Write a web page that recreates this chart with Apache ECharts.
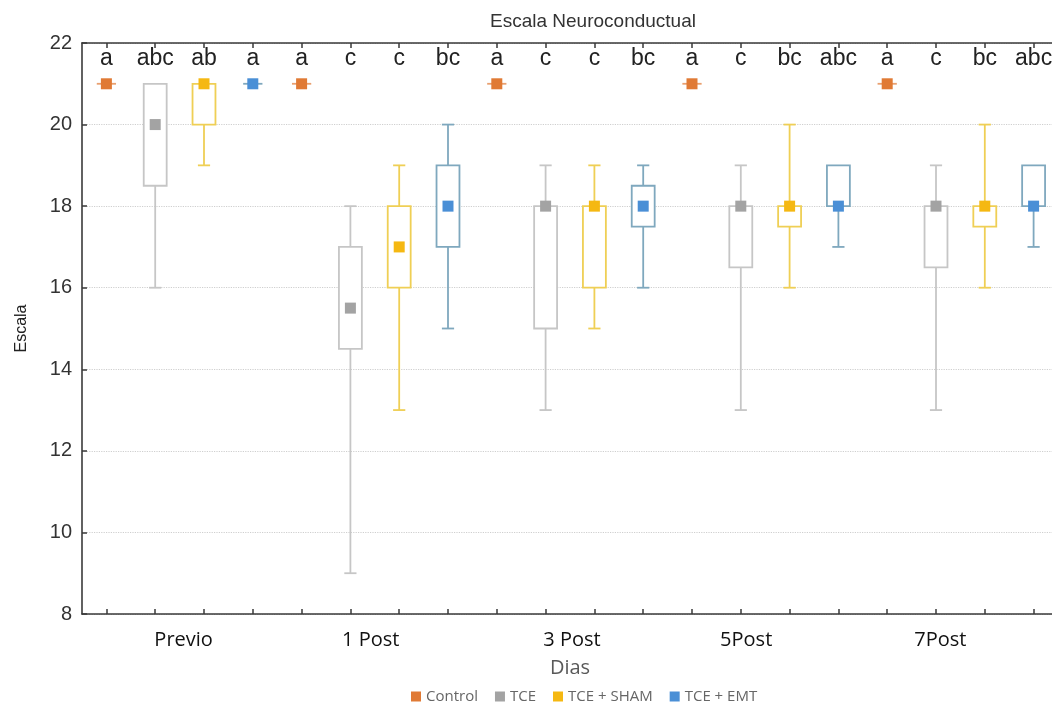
<!DOCTYPE html>
<html><head><meta charset="utf-8">
<script src="https://cdn.jsdelivr.net/npm/echarts@6/dist/echarts.min.js"></script>
<style>html,body{margin:0;padding:0;background:#fff}#c{width:1052px;height:704px}</style>
</head><body><div id="c"></div>
<script>
const days = ['Previo', '1 Post', '3 Post', '5Post', '7Post'];
const groups = ['Control', 'TCE', 'TCE + SHAM', 'TCE + EMT'];
const letters = ['a', 'abc', 'ab', 'a', 'a', 'c', 'c', 'bc', 'a', 'c', 'c', 'bc', 'a', 'c', 'bc', 'abc', 'a', 'c', 'bc', 'abc'];
const yMin = 8, yMax = 22, yStep = 2;
// per day: [min, Q1, marker, Q3, max]
const control = [[21, 21, 21, 21, 21], [21, 21, 21, 21, 21], [21, 21, 21, 21, 21], [21, 21, 21, 21, 21], [21, 21, 21, 21, 21]];
const tce = [[16, 18.5, 20, 21, 21], [9, 14.5, 15.5, 17, 18], [13, 15, 18, 18, 19], [13, 16.5, 18, 18, 19], [13, 16.5, 18, 18, 19]];
const sham = [[19, 20, 21, 21, 21], [13, 16, 17, 18, 19], [15, 16, 18, 18, 19], [16, 17.5, 18, 18, 20], [16, 17.5, 18, 18, 20]];
const emt = [[21, 21, 21, 21, 21], [15, 17, 18, 19, 20], [16, 17.5, 18, 18.5, 19], [17, 18, 18, 19, 19], [17, 18, 18, 19, 19]];

const groupData = [control, tce, sham, emt];
const markerColors = ['#e07a35', '#a3a3a3', '#f5b812', '#4a8fd6'];
const strokeColors = ['#e9a070', '#c6c6c6', '#efcf55', '#7fa8be'];

const slots = [];
days.forEach(d => groups.forEach(g => slots.push(d + ' ' + g)));

function makeRender(gi) {
  return function (params, api) {
    const x = api.value(0);
    const vmin = api.value(1), q1 = api.value(2), med = api.value(3), q3 = api.value(4), vmax = api.value(5);
    const slotW = api.size([1, 0])[0];
    const bw = slotW * 0.47, cw = slotW * 0.25, ms = 11;
    const pMin = api.coord([x, vmin]), pQ1 = api.coord([x, q1]), pMed = api.coord([x, med]);
    const pQ3 = api.coord([x, q3]), pMax = api.coord([x, vmax]);
    const cx = pMin[0];
    const st = { stroke: strokeColors[gi], lineWidth: 1.8, fill: null };
    const children = [];
    if (pMin[1] - pQ1[1] > 0.5) {
      children.push({ type: 'line', shape: { x1: cx, y1: pQ1[1], x2: cx, y2: pMin[1] }, style: st });
      children.push({ type: 'line', shape: { x1: cx - cw / 2, y1: pMin[1], x2: cx + cw / 2, y2: pMin[1] }, style: st });
    }
    if (pQ3[1] - pMax[1] > 0.5) {
      children.push({ type: 'line', shape: { x1: cx, y1: pMax[1], x2: cx, y2: pQ3[1] }, style: st });
      children.push({ type: 'line', shape: { x1: cx - cw / 2, y1: pMax[1], x2: cx + cw / 2, y2: pMax[1] }, style: st });
    }
    if (pQ1[1] - pQ3[1] > 0.5) {
      children.push({ type: 'rect', shape: { x: cx - bw / 2, y: pQ3[1], width: bw, height: pQ1[1] - pQ3[1] }, style: { stroke: strokeColors[gi], lineWidth: 1.8, fill: '#fff' } });
    } else {
      children.push({ type: 'line', shape: { x1: cx - bw * 0.42, y1: pQ1[1], x2: cx + bw * 0.42, y2: pQ1[1] }, style: st });
    }
    children.push({ type: 'rect', shape: { x: cx - ms / 2, y: pMed[1] - ms / 2, width: ms, height: ms }, style: { fill: markerColors[gi], stroke: null } });
    return { type: 'group', children: children };
  };
}

const series = groups.map((g, gi) => ({
  name: g,
  type: 'custom',
  xAxisIndex: 0, yAxisIndex: 0,
  itemStyle: { color: markerColors[gi] },
  encode: { x: 0, y: [1, 2, 3, 4, 5] },
  data: groupData[gi].map((v, di) => [di * groups.length + gi].concat(v)),
  renderItem: makeRender(gi),
  z: 5
}));

const labelShift = { 'Previo': 'r4', '1 Post': 'l4', '3 Post': 'r2', '5Post': 'l19', '7Post': 'l20' };
const axisDark = { show: true, lineStyle: { color: '#3a3a3a', width: 1.6 } };
const tickDark = { show: true, inside: true, alignWithLabel: true, interval: 0, length: 5, lineStyle: { color: '#3a3a3a', width: 1.5 } };

const chart = echarts.init(document.getElementById('c'), null, { renderer: 'canvas' });
chart.setOption({
  backgroundColor: '#fff',
  animation: false,
  title: {
    text: 'Escala Neuroconductual', left: 588, top: 7, textAlign: 'center',
    textStyle: { fontFamily: 'Liberation Sans', fontSize: 19, fontWeight: 'normal', color: '#333' }
  },
  legend: {
    data: groups, left: 406, top: 684, icon: 'rect', itemWidth: 10, itemHeight: 10, itemGap: 17,
    textStyle: { fontFamily: 'Open Sans', fontSize: 15, color: '#666' }
  },
  grid: [
    { left: 82, right: -6, top: 43, bottom: 90, outerBoundsMode: 'none', containLabel: false },
    { left: 82, right: -6, top: 43, bottom: 90, outerBoundsMode: 'none', containLabel: false }
  ],
  xAxis: [
    {
      type: 'category', gridIndex: 0, position: 'bottom', data: slots,
      axisLine: axisDark, axisTick: tickDark,
      axisLabel: { show: false, interval: 0 }, splitLine: { show: false }
    },
    {
      type: 'category', gridIndex: 0, position: 'top', data: slots,
      axisLine: axisDark, axisTick: tickDark,
      axisLabel: {
        show: true, inside: true, interval: 0, margin: 4,
        formatter: (v, i) => letters[i],
        fontFamily: 'Liberation Sans', fontSize: 23, color: '#222'
      },
      splitLine: { show: false }
    },
    {
      type: 'category', gridIndex: 1, position: 'bottom', data: days,
      axisLine: { show: false }, axisTick: { show: false },
      axisLabel: {
        show: true, interval: 0, margin: 16,
        formatter: v => '{' + labelShift[v] + '|' + v + '}',
        fontFamily: 'Open Sans', fontSize: 20, color: '#111',
        rich: {
          r4: { padding: [0, 0, 0, 8], fontFamily: 'Open Sans', fontSize: 20, color: '#111' },
          r2: { padding: [0, 0, 0, 4], fontFamily: 'Open Sans', fontSize: 20, color: '#111' },
          l4: { padding: [0, 8, 0, 0], fontFamily: 'Open Sans', fontSize: 20, color: '#111' },
          l19: { padding: [0, 38, 0, 0], fontFamily: 'Open Sans', fontSize: 20, color: '#111' },
          l20: { padding: [0, 40, 0, 0], fontFamily: 'Open Sans', fontSize: 20, color: '#111' }
        }
      },
      name: 'Dias', nameLocation: 'middle', nameGap: 44,
      nameTextStyle: { fontFamily: 'Open Sans', fontSize: 20, color: '#595959' }
    }
  ],
  yAxis: [
    {
      type: 'value', gridIndex: 0, min: yMin, max: yMax, interval: yStep,
      axisLine: axisDark,
      axisTick: { show: true, inside: true, length: 5, lineStyle: { color: '#3a3a3a', width: 1.5 } },
      axisLabel: { fontFamily: 'Liberation Sans', fontSize: 20, color: '#333', margin: 10 },
      splitLine: { show: true, lineStyle: { color: '#cfcfcf', type: 'dotted', width: 1.2 } },
      name: 'Escala', nameLocation: 'middle', nameGap: 52,
      nameTextStyle: { fontFamily: 'Liberation Sans', fontSize: 16, color: '#222' }
    },
    {
      type: 'value', gridIndex: 1, min: yMin, max: yMax, show: false
    }
  ],
  series: series
});
</script>
</body></html>
